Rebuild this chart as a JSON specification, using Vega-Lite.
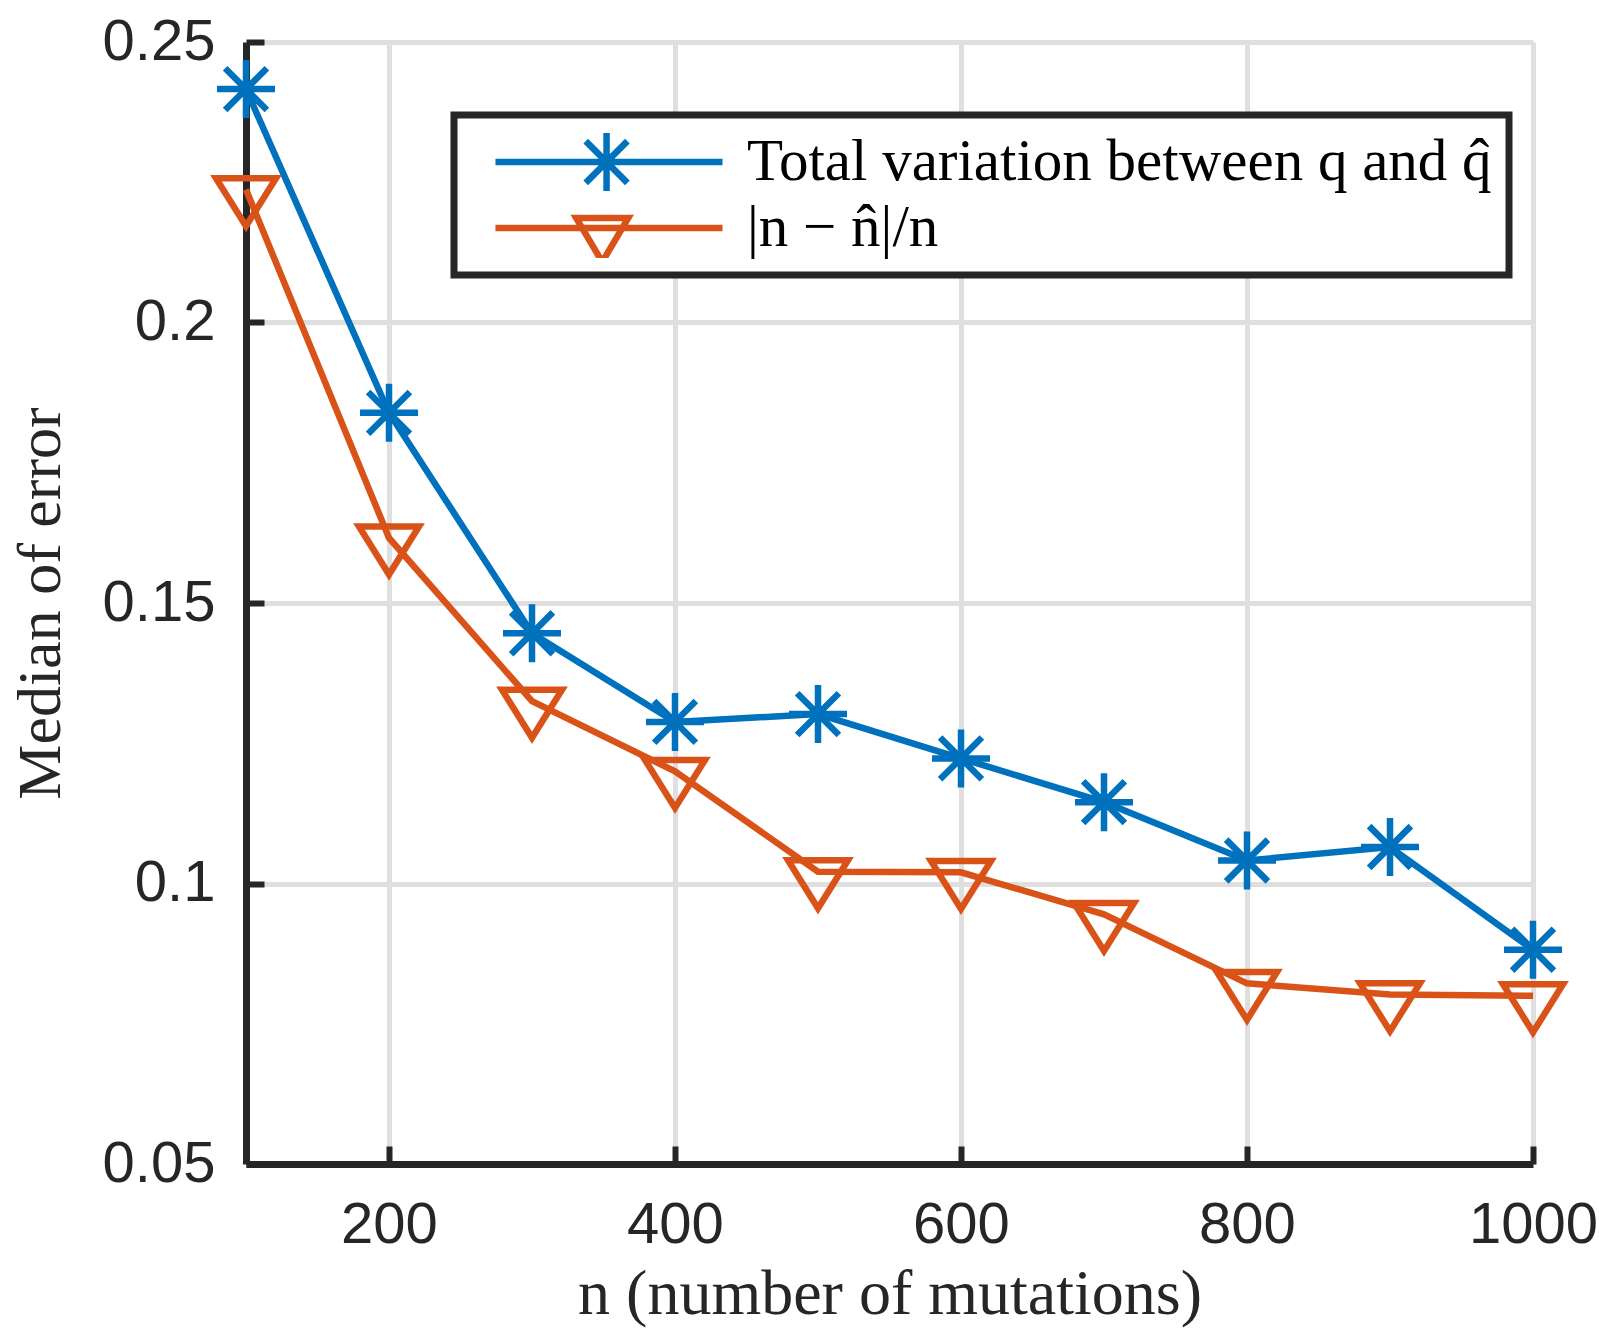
{
  "$schema": "https://vega.github.io/schema/vega-lite/v6.json",
  "autosize": {"type": "none"},
  "width": 1287,
  "height": 1122,
  "padding": {"left": 246, "top": 42, "right": 66, "bottom": 168},
  "background": "white",
  "data": {"values": [
    {"n": 100, "err": 0.2416, "series": "tv"},
    {"n": 200, "err": 0.1839, "series": "tv"},
    {"n": 300, "err": 0.1446, "series": "tv"},
    {"n": 400, "err": 0.1288, "series": "tv"},
    {"n": 500, "err": 0.1302, "series": "tv"},
    {"n": 600, "err": 0.1223, "series": "tv"},
    {"n": 700, "err": 0.1145, "series": "tv"},
    {"n": 800, "err": 0.1041, "series": "tv"},
    {"n": 900, "err": 0.1065, "series": "tv"},
    {"n": 1000, "err": 0.0882, "series": "tv"},
    {"n": 100, "err": 0.2237, "series": "nn"},
    {"n": 200, "err": 0.1616, "series": "nn"},
    {"n": 300, "err": 0.1325, "series": "nn"},
    {"n": 400, "err": 0.1200, "series": "nn"},
    {"n": 500, "err": 0.1021, "series": "nn"},
    {"n": 600, "err": 0.1020, "series": "nn"},
    {"n": 700, "err": 0.0945, "series": "nn"},
    {"n": 800, "err": 0.0822, "series": "nn"},
    {"n": 900, "err": 0.0802, "series": "nn"},
    {"n": 1000, "err": 0.0800, "series": "nn"}
  ]},
  "encoding": {
    "x": {"field": "n", "type": "quantitative",
      "scale": {"domain": [100, 1000], "nice": false, "zero": false},
      "axis": {"values": [200, 400, 600, 800, 1000], "format": "d", "labelPadding": 50, "titlePadding": 8, "title": "n (number of mutations)", "titleFontSize": 64, "labelFlush": false}},
    "y": {"field": "err", "type": "quantitative",
      "scale": {"domain": [0.05, 0.25], "nice": false, "zero": false},
      "axis": {"values": [0.05, 0.1, 0.15, 0.2, 0.25], "format": ".2~f", "labelPadding": 49, "titlePadding": 30, "title": "Median of error", "labelFlush": false}}
  },
  "layer": [
    {
      "mark": {"type": "line", "strokeWidth": 6.5},
      "encoding": {
        "color": {"field": "series", "type": "nominal",
          "scale": {"domain": ["tv", "nn"], "range": ["#0072BD", "#D95319"]},
          "legend": {
            "orient": "none", "legendX": 208, "legendY": 73, "title": null,
            "padding": 17, "strokeColor": "#262626", "fillColor": "white",
            "symbolSize": 61504, "symbolStrokeWidth": 6.5, "clipHeight": 60, "rowPadding": 6, "labelOffset": 21,
            "labelFont": "Liberation Serif", "labelFontSize": 59, "labelColor": "black", "labelLimit": 3000,
            "labelExpr": "datum.value === 'tv' ? 'Total variation between q and q\u0302' : '|n \u2212 n\u0302|/n'",
            "encode": {
              "legend": {"update": {"strokeWidth": {"value": 7}}},
              "symbols": {"update": {
                "shape": {"signal": "datum.value === 'tv' ? 'M-0.831,0H1M0.065,-0.234V0.234M-0.169,0H0.299M-0.103,-0.168L0.233,0.168M-0.103,0.168L0.233,-0.168' : 'M-0.831,0H1M-0.18,-0.081L0.24,-0.081L0.03,0.274Z'"},
                "fill": {"value": "transparent"}
              }}
            }
          }}
      }
    },
    {
      "transform": [{"filter": "datum.series === 'tv'"}],
      "mark": {"type": "point", "shape": "M0,-1V1M-1,0H1M-0.72,-0.72L0.72,0.72M-0.72,0.72L0.72,-0.72", "size": 3364, "strokeWidth": 6.5, "filled": false, "color": "#0072BD", "opacity": 1}
    },
    {
      "transform": [{"filter": "datum.series === 'nn'"}],
      "mark": {"type": "point", "shape": "M-1,-0.38L1,-0.38L0,1.22Z", "size": 3600, "strokeWidth": 6.5, "filled": false, "color": "#D95319", "opacity": 1}
    }
  ],
  "config": {
    "view": {"stroke": null},
    "axis": {
      "domainColor": "#262626", "domainWidth": 7,
      "tickColor": "#262626", "tickWidth": 6, "tickSize": -18,
      "grid": true, "gridColor": "#dfdfdf", "gridWidth": 5,
      "labelFont": "Liberation Sans", "labelFontSize": 58, "labelColor": "#262626",
      "titleFont": "Liberation Serif", "titleFontSize": 62, "titleFontWeight": "normal", "titleColor": "#262626"
    }
  }
}
